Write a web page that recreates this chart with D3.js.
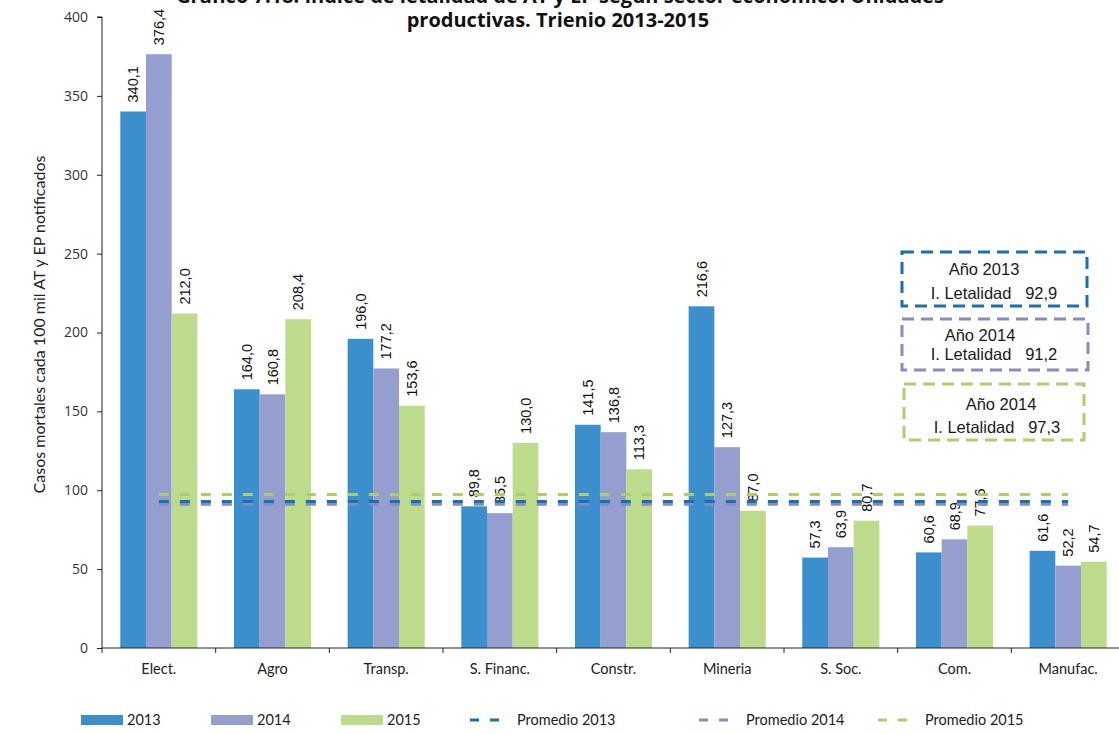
<!DOCTYPE html>
<html>
<head>
<meta charset="utf-8">
<script src="https://cdn.jsdelivr.net/npm/d3@7"></script>
<style>
  html, body { margin: 0; padding: 0; background: #fff; }
  svg { display: block; }
</style>
</head>
<body>
<svg id="chart" width="1119" height="734"></svg>
<script>
// Sectores económicos y series anuales
const categories = ["Elect.", "Agro", "Transp.", "S. Financ.", "Constr.", "Mineria", "S. Soc.", "Com.", "Manufac."];
const years = ["2013", "2014", "2015"];
const values2013 = [340.1, 164.0, 196.0, 89.8, 141.5, 216.6, 57.3, 60.6, 61.6];
const values2014 = [376.4, 160.8, 177.2, 85.5, 136.8, 127.3, 63.9, 68.9, 52.2];
const values2015 = [212.0, 208.4, 153.6, 130.0, 113.3, 87.0, 80.7, 77.6, 54.7];
const averages = [92.9, 91.2, 97.3];           // promedio 2013, 2014, 2015
const yTicks = [0, 50, 100, 150, 200, 250, 300, 350, 400];
const boxTitles = ["Año 2013", "Año 2014", "Año 2014"];

const barColors = ["#3a8fcc", "#949fcf", "#bcdb8b"];
const avgColors = ["#1b6fae", "#858cc2", "#a9d06c"];

const svg = d3.select("#chart");
const fmt = v => d3.format(".1f")(v).replace(".", ",");

const plotL = 102, plotR = 1125, plotT = 17, plotB = 648;

const x0 = d3.scaleBand().domain(categories).range([plotL, plotR])
  .paddingInner(0.322).paddingOuter(0.161);
const x1 = d3.scaleBand().domain(years).range([0, x0.bandwidth()]);
const y = d3.scaleLinear().domain([0, 400]).range([plotB, plotT]);

const series = [values2013, values2014, values2015];
const rows = categories.map((c, i) => ({ cat: c, vals: years.map((yr, k) => ({ yr, k, v: series[k][i] })) }));

// Título
const title = svg.append("g").attr("font-family", "'Open Sans', sans-serif")
  .attr("font-weight", 700).attr("font-size", 20).attr("fill", "#111").attr("text-anchor", "middle");
title.append("text").attr("x", 560).attr("y", 3)
  .text("Gráfico 7.18: Índice de letalidad de AT y EP según sector económico. Unidades");
title.append("text").attr("x", 558).attr("y", 27).text("productivas. Trienio 2013-2015");

// Barras
const groups = svg.append("g").selectAll("g").data(rows).join("g")
  .attr("transform", d => `translate(${x0(d.cat)},0)`);
groups.selectAll("rect").data(d => d.vals).join("rect")
  .attr("x", d => x1(d.yr))
  .attr("y", d => y(d.v))
  .attr("width", x1.bandwidth())
  .attr("height", d => y(0) - y(d.v))
  .attr("fill", d => barColors[d.k]);

// Líneas de promedio (2014 debajo de 2013)
const firstC = x0(categories[0]) + x0.bandwidth() / 2;
const lastC = x0(categories[categories.length - 1]) + x0.bandwidth() / 2;
[1, 0, 2].forEach(k => {
  svg.append("line")
    .attr("x1", firstC).attr("x2", lastC)
    .attr("y1", y(averages[k])).attr("y2", y(averages[k]))
    .attr("stroke", avgColors[k]).attr("stroke-width", 3)
    .attr("stroke-dasharray", "10,11");
});

// Etiquetas de valor
groups.selectAll("text").data(d => d.vals).join("text")
  .attr("transform", d => `translate(${x1(d.yr) + x1.bandwidth() / 2},${y(d.v) - 9}) rotate(-90)`)
  .attr("dy", "0.35em")
  .attr("font-family", "'Liberation Sans', Arial, sans-serif")
  .attr("font-size", 14.5).attr("fill", "#111")
  .text(d => fmt(d.v));

// Eje Y
const yAxis = svg.append("g").attr("transform", `translate(${plotL},0)`)
  .call(d3.axisLeft(y).tickValues(yTicks).tickSize(5).tickPadding(9).tickFormat(d3.format("d")));
yAxis.select(".domain").attr("stroke", "#222").attr("d", `M-5,${plotT}H0V${plotB}`);
yAxis.selectAll(".tick line").attr("stroke", "#222");
yAxis.selectAll("text").attr("font-family", "'Open Sans', sans-serif").attr("font-size", 14).attr("fill", "#333");

// Eje X
const xAxis = svg.append("g").attr("transform", `translate(0,${plotB})`)
  .call(d3.axisBottom(x0).tickSize(0).tickPadding(16));
xAxis.select(".domain").attr("stroke", "#222").attr("d", `M${plotL},0H${plotR}`);
xAxis.selectAll("text").attr("font-family", "Lato, sans-serif").attr("font-size", 14.5).attr("fill", "#222");
// marcas entre categorías
const bounds = d3.range(categories.length + 1).map(i => plotL + i * x0.step());
xAxis.selectAll("line.sep").data(bounds).join("line").attr("class", "sep")
  .attr("x1", d => d).attr("x2", d => d).attr("y1", 0).attr("y2", 5).attr("stroke", "#222");

// Título del eje Y
svg.append("text")
  .attr("transform", `translate(45,${(plotT + plotB) / 2 - 8}) rotate(-90)`)
  .attr("text-anchor", "middle")
  .attr("font-family", "Lato, sans-serif").attr("font-size", 16).attr("fill", "#222")
  .text("Casos mortales cada 100 mil AT y EP notificados");

// Recuadros de índice de letalidad
const boxes = [
  { x: 902, y: 252, w: 185, h: 54, t1: [984, 275], t2: [994, 299] },
  { x: 902, y: 319, w: 186, h: 51, t1: [980, 341], t2: [994, 360] },
  { x: 904, y: 384, w: 180, h: 56, t1: [1001, 410], t2: [997, 433] }
];
boxes.forEach((b, k) => {
  const g = svg.append("g");
  g.append("rect").attr("x", b.x).attr("y", b.y).attr("width", b.w).attr("height", b.h)
    .attr("fill", "none").attr("stroke", avgColors[k]).attr("stroke-width", 3)
    .attr("stroke-dasharray", "12,7");
  const tg = g.append("g").attr("font-family", "'Liberation Sans', Arial, sans-serif")
    .attr("font-size", 16.5).attr("fill", "#1a1a1a").attr("text-anchor", "middle");
  tg.append("text").attr("x", b.t1[0]).attr("y", b.t1[1]).text(boxTitles[k]);
  tg.append("text").attr("x", b.t2[0]).attr("y", b.t2[1]).attr("xml:space", "preserve")
    .text("I. Letalidad   " + fmt(averages[k]));
});

// Leyenda
const legend = svg.append("g").attr("font-family", "Lato, sans-serif").attr("font-size", 14.5).attr("fill", "#222");
const barLeg = [81, 211, 341];
years.forEach((yr, k) => {
  legend.append("rect").attr("x", barLeg[k]).attr("y", 715).attr("width", 42).attr("height", 10)
    .attr("fill", barColors[k]);
  legend.append("text").attr("x", barLeg[k] + 46).attr("y", 725).text(yr);
});
const lineLeg = [470, 699, 878];
years.forEach((yr, k) => {
  legend.append("line").attr("x1", lineLeg[k]).attr("x2", lineLeg[k] + 30)
    .attr("y1", 720).attr("y2", 720)
    .attr("stroke", avgColors[k]).attr("stroke-width", 3).attr("stroke-dasharray", "9,11");
  legend.append("text").attr("x", lineLeg[k] + 47).attr("y", 725).text("Promedio " + yr);
});
</script>
</body>
</html>
